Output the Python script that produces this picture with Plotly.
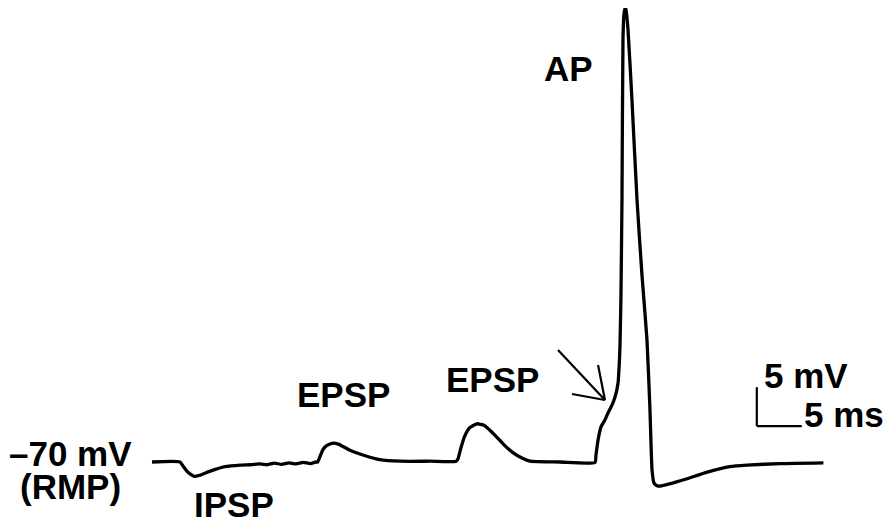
import plotly.graph_objects as go

# Membrane potential trace: time (ms) and voltage (mV)
time_ms = [
    0.0, 3.1, 3.5, 3.9, 4.3, 4.7, 5.3, 6.4, 8.1, 9.8,
    11.0, 12.0, 12.8, 13.6, 14.4, 15.2, 16.0, 16.8, 17.6, 18.2,
    18.4, 18.7, 19.0, 19.4, 20.0, 20.7, 22.0, 23.7, 25.3, 27.6, 30.9, 33.8,
    34.0, 34.3, 34.7, 35.3, 36.1, 36.9, 37.6, 38.3, 39.2, 40.1, 41.1, 42.0, 45.3,
    49.22, 49.33, 49.56, 49.89, 50.33, 50.67, 51.11, 51.44, 51.78, 51.94,
    52.0, 52.1, 52.22, 52.33, 52.44, 52.56, 52.67, 52.89, 53.33, 53.89,
    54.44, 55.0, 55.33, 55.56, 55.78, 56.22, 58.7, 61.7, 64.2, 66.1, 69.8, 74.6,
]
voltage_mv = [
    -70.0, -70.0, -70.6, -71.2, -71.6, -71.85, -71.7, -71.2, -70.6, -70.4,
    -70.35, -70.25, -70.35, -70.15, -70.3, -70.1, -70.25, -70.05, -70.2, -70.0,
    -70.0, -69.2, -68.4, -67.9, -67.6, -67.7, -68.5, -69.2, -69.7, -69.9, -69.9, -69.9,
    -69.6, -68.3, -66.8, -65.6, -65.1, -65.3, -66.0, -66.8, -67.9, -68.8, -69.5, -69.9, -70.0,
    -70.05, -69.1, -67.2, -65.5, -64.6, -63.7, -62.7, -61.7, -59.9, -56.9,
    -55.0, -49.2, -36.4, -15.9, -12.6, -11.8, -12.05, -14.6, -23.6, -36.4,
    -46.0, -54.4, -63.3, -71.0, -72.7, -73.1, -72.4, -71.3, -70.6, -70.4, -70.2, -70.1,
]

# Label texts
labels = ["AP", "EPSP", "EPSP", "IPSP", "\u201370 mV", "(RMP)"]
scale_labels = ["5 mV", "5 ms"]
scale_bar_ms = 5
scale_bar_mv = 5

# pixel scale of the drawing (page offset of 8 px from body margin)
PX_PER_MS = 9.0
PX_PER_MV = 7.8
OFF = 8
W, H = 896 - OFF, 524 - OFF
X0_PX = 152 - OFF   # pixel of t = 0
Y0_PX = 462 - OFF   # pixel of v = -70

fig = go.Figure()
fig.add_trace(go.Scatter(
    x=time_ms, y=voltage_mv, mode="lines",
    line=dict(color="black", width=3.3, shape="spline", smoothing=0.5),
    hoverinfo="skip", showlegend=False,
))

font = dict(family="Liberation Sans, Arial, sans-serif", size=35, color="black")

label_pos = [(46.33, -19.5), (21.33, -61.35), (37.78, -59.45), (9.11, -75.5), (-9.1, -68.9), (-9.1, -73.15)]
for txt, (tx, ty) in zip(labels, label_pos):
    fig.add_annotation(x=tx, y=ty, text="<b>%s</b>" % txt, showarrow=False,
                       xanchor="center", yanchor="middle", font=font)

# Scale bar
sb_t0, sb_v0 = 67.2, -65.4
fig.add_shape(type="line", x0=sb_t0, y0=sb_v0, x1=sb_t0, y1=sb_v0 + scale_bar_mv,
              line=dict(color="black", width=2.2))
fig.add_shape(type="line", x0=sb_t0, y0=sb_v0, x1=sb_t0 + scale_bar_ms, y1=sb_v0,
              line=dict(color="black", width=2.2))
fig.add_annotation(x=72.67, y=-58.85, text="<b>%s</b>" % scale_labels[0], showarrow=False,
                   xanchor="center", yanchor="middle", font=font)
fig.add_annotation(x=76.89, y=-63.85, text="<b>%s</b>" % scale_labels[1], showarrow=False,
                   xanchor="center", yanchor="middle", font=font)

# Open arrow pointing at threshold shoulder
tip = (50.33, -62.05)
for (ax, ay) in [(45.11, -55.64), (49.56, -57.56), (46.67, -61.28)]:
    fig.add_shape(type="line", x0=ax, y0=ay, x1=tip[0], y1=tip[1],
                  line=dict(color="black", width=2.2))

fig.update_layout(
    width=W, height=H,
    margin=dict(l=0, r=0, t=0, b=0),
    paper_bgcolor="white", plot_bgcolor="white",
    xaxis=dict(range=[-X0_PX / PX_PER_MS, (W - X0_PX) / PX_PER_MS], visible=False, fixedrange=True),
    yaxis=dict(range=[-70 - (H - Y0_PX) / PX_PER_MV, -70 + Y0_PX / PX_PER_MV], visible=False, fixedrange=True),
)

fig.write_html("out.html")
